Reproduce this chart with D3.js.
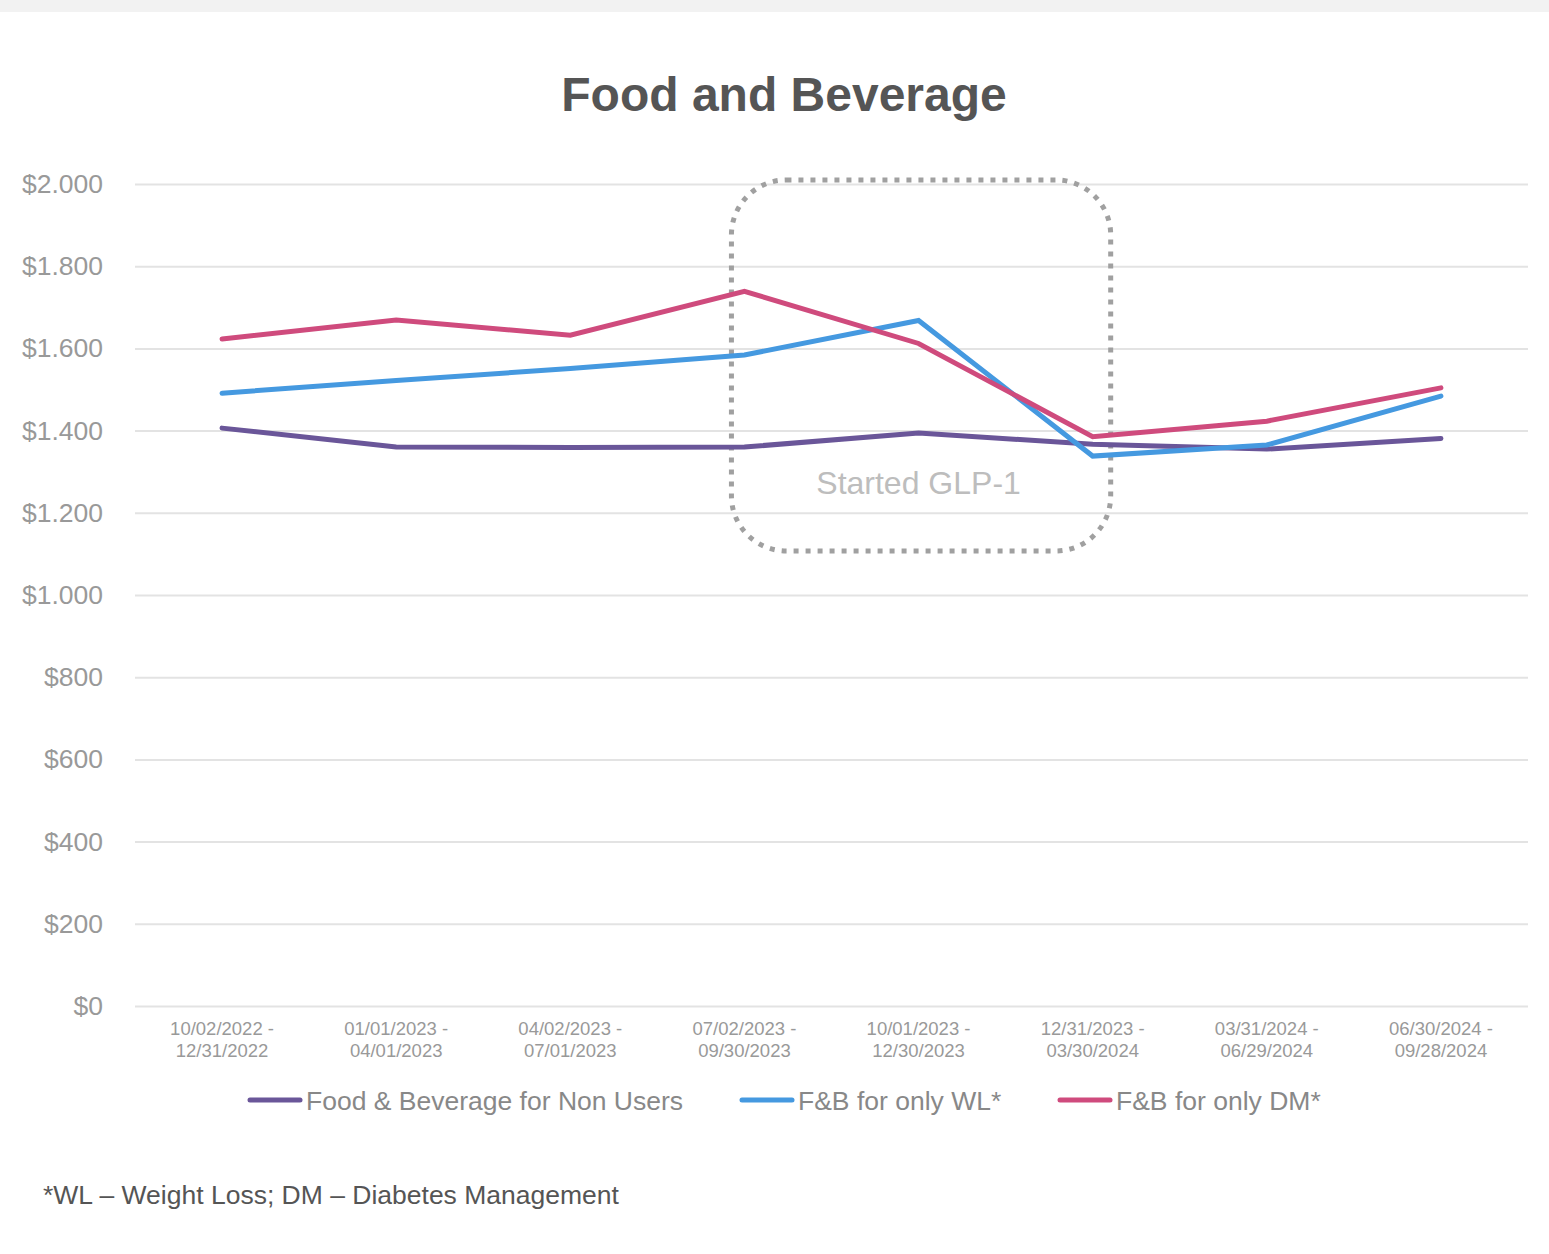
<!DOCTYPE html>
<html>
<head>
<meta charset="utf-8">
<script src="https://cdn.jsdelivr.net/npm/d3@7"></script>
<style>
  html, body { margin: 0; padding: 0; background: #fff; }
  svg { display: block; font-family: "Liberation Sans", Arial, sans-serif; }
</style>
</head>
<body>
<svg id="chart" width="1549" height="1254"></svg>
<script>
const categories = [
  ["10/02/2022 -", "12/31/2022"],
  ["01/01/2023 -", "04/01/2023"],
  ["04/02/2023 -", "07/01/2023"],
  ["07/02/2023 -", "09/30/2023"],
  ["10/01/2023 -", "12/30/2023"],
  ["12/31/2023 -", "03/30/2024"],
  ["03/31/2024 -", "06/29/2024"],
  ["06/30/2024 -", "09/28/2024"]
];
const nonUsers = [1406, 1360, 1359, 1360, 1394, 1367, 1355, 1381];
const onlyWL   = [1491, 1522, 1551, 1584, 1668, 1338, 1365, 1484];
const onlyDM   = [1623, 1669, 1632, 1739, 1612, 1385, 1423, 1504];
const seriesNames = ["Food & Beverage for Non Users", "F&B for only WL*", "F&B for only DM*"];
const seriesColors = ["#6a5699", "#4599e0", "#cf4b7d"];
const yTicks = [0, 200, 400, 600, 800, 1000, 1200, 1400, 1600, 1800, 2000];
const yTickLabels = ["$0", "$200", "$400", "$600", "$800", "$1.000", "$1.200", "$1.400", "$1.600", "$1.800", "$2.000"];
const title = "Food and Beverage";
const annotation = "Started GLP-1";
const footnote = "*WL \u2013 Weight Loss; DM \u2013 Diabetes Management";

(function () {
const svg = d3.select("#chart");
const W = 1549, H = 1254;

svg.append("rect").attr("x", 0).attr("y", 0).attr("width", W).attr("height", 12).attr("fill", "#f2f2f2");

svg.append("text").attr("x", 784).attr("y", 111).attr("text-anchor", "middle")
  .attr("font-size", 48).attr("font-weight", "bold").attr("fill", "#555")
  .text(title);

const pLeft = 135, pRight = 1528, pTop = 184, pBottom = 1006;
const keys = categories.map(c => c.join(" "));
const x = d3.scaleBand().domain(keys).range([pLeft, pRight]);
const y = d3.scaleLinear().domain([0, 2000]).range([pBottom, pTop]);

// gridlines
const yAxis = d3.axisLeft(y).tickValues(yTicks).tickSize(-(pRight - pLeft))
  .tickFormat((d, i) => yTickLabels[i]).tickPadding(32);
const gy = svg.append("g").attr("transform", `translate(${pLeft},0)`).call(yAxis);
gy.select(".domain").remove();
gy.selectAll(".tick line").attr("stroke", "#e3e3e3").attr("stroke-width", 2);
gy.selectAll(".tick text").attr("font-size", 26.5).attr("fill", "#999")
  .attr("font-family", "Liberation Sans, Arial, sans-serif");

// x axis labels
const xAxis = d3.axisBottom(x).tickSize(0).tickFormat("");
const gx = svg.append("g").attr("transform", `translate(0,${pBottom})`).call(xAxis);
gx.select(".domain").remove();
gx.selectAll(".tick").each(function(d, i) {
  const t = d3.select(this).append("text").attr("fill", "#999").attr("font-size", 18.5)
    .attr("text-anchor", "middle").attr("font-family", "Liberation Sans, Arial, sans-serif");
  t.append("tspan").attr("x", 0).attr("y", 29).text(categories[i][0]);
  t.append("tspan").attr("x", 0).attr("y", 51).text(categories[i][1]);
});

// annotation box
const bx0 = x(keys[3]) + x.bandwidth() / 2 - 13;
const bx1 = x(keys[5]) + x.bandwidth() / 2 + 18;
const by0 = y(2010), by1 = y(1107);
svg.append("rect").attr("x", bx0).attr("y", by0).attr("width", bx1 - bx0).attr("height", by1 - by0)
  .attr("rx", 55).attr("ry", 55).attr("fill", "none").attr("stroke", "#a0a0a0")
  .attr("stroke-width", 5).attr("stroke-dasharray", "5,7");

svg.append("text").attr("x", x(keys[4]) + x.bandwidth() / 2).attr("y", 494)
  .attr("text-anchor", "middle").attr("font-size", 32).attr("fill", "#bdbdbd")
  .text(annotation);

// lines
const allSeries = [nonUsers, onlyWL, onlyDM];
const line = d3.line().x((d, i) => x(keys[i]) + x.bandwidth() / 2).y(d => y(d));
allSeries.forEach((s, k) => {
  svg.append("path").datum(s).attr("d", line).attr("fill", "none")
    .attr("stroke", seriesColors[k]).attr("stroke-width", 5)
    .attr("stroke-linecap", "round").attr("stroke-linejoin", "miter");
});

// legend
const legendX = [248, 740, 1058];
const ly = 1100;
seriesNames.forEach((n, k) => {
  svg.append("line").attr("x1", legendX[k] + 2).attr("x2", legendX[k] + 52).attr("y1", ly).attr("y2", ly)
    .attr("stroke", seriesColors[k]).attr("stroke-width", 5).attr("stroke-linecap", "round");
  svg.append("text").attr("x", legendX[k] + 58).attr("y", ly + 9.5).attr("font-size", 26.5)
    .attr("fill", "#888").text(n);
});

svg.append("text").attr("x", 43).attr("y", 1204).attr("font-size", 26.5).attr("fill", "#555")
  .text(footnote);
})();
</script>
</body>
</html>
